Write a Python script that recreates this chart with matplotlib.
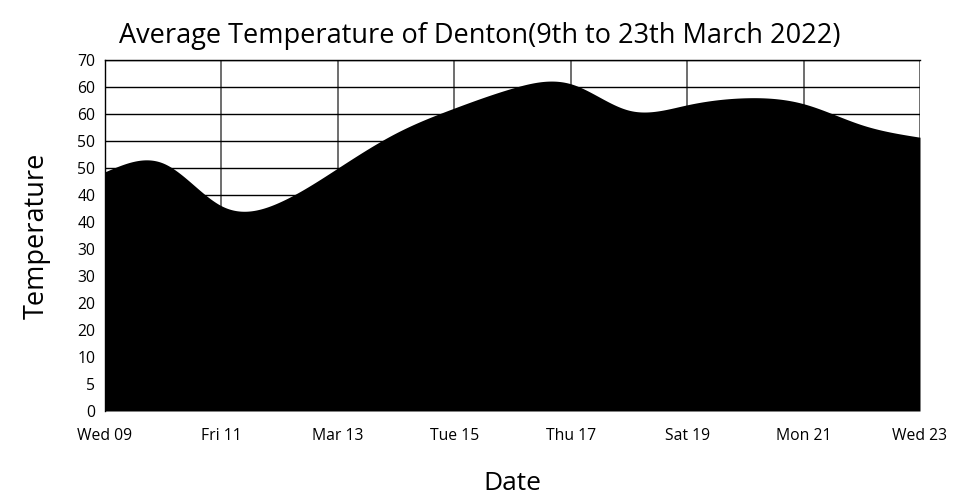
"""Area chart: average temperature of Denton, 9-23 March 2022."""
import math

import matplotlib
matplotlib.use("Agg")
import matplotlib.pyplot as plt
import numpy as np

plt.rcParams["font.family"] = ["Open Sans", "DejaVu Sans"]

# day of month and average temperature
days = np.arange(9, 24)
temps = [44.3, 45.9, 38.0, 38.7, 45.0, 51.5, 56.1, 59.8,
         60.6, 55.7, 56.7, 58.0, 56.9, 53.0, 50.7]
tick_days = [9, 11, 13, 15, 17, 19, 21, 23]
tick_names = ["Wed 09", "Fri 11", "Mar 13", "Tue 15",
              "Thu 17", "Sat 19", "Mon 21", "Wed 23"]
y_ticks = list(range(0, 70, 5))


def one_sig(v):
    # round half up to one significant figure, as the original labels do
    if v == 0:
        return "0"
    p = 10 ** int(math.floor(math.log10(v)))
    return str(int(math.floor(v / p + 0.5)) * p)


def natural_spline(x, y, xs):
    # natural cubic spline, only used to draw the smooth edge
    x = np.asarray(x, float)
    y = np.asarray(y, float)
    n = len(x)
    h = np.diff(x)
    A = np.zeros((n, n))
    r = np.zeros(n)
    A[0, 0] = A[-1, -1] = 1.0
    for i in range(1, n - 1):
        A[i, i - 1] = h[i - 1]
        A[i, i] = 2 * (h[i - 1] + h[i])
        A[i, i + 1] = h[i]
        r[i] = 6 * ((y[i + 1] - y[i]) / h[i] - (y[i] - y[i - 1]) / h[i - 1])
    m = np.linalg.solve(A, r)
    idx = np.clip(np.searchsorted(x, xs) - 1, 0, n - 2)
    x0, x1 = x[idx], x[idx + 1]
    hh = x1 - x0
    a = (x1 - xs) / hh
    b = (xs - x0) / hh
    return (a * y[idx] + b * y[idx + 1]
            + ((a ** 3 - a) * m[idx] + (b ** 3 - b) * m[idx + 1]) * hh ** 2 / 6)


fig = plt.figure(figsize=(9.6, 5), dpi=100)
ax = fig.add_axes([105 / 960, 1 - 411 / 500, 815 / 960, 351 / 500])

xs = np.linspace(days[0], days[-1], 600)
ax.fill_between(xs, 0, natural_spline(days, temps, xs), color="black", lw=0, zorder=3)

ax.set_xlim(days[0], days[-1])
ax.set_ylim(0, 65)
ax.set_xticks(tick_days)
ax.set_xticklabels(tick_names)
ax.set_yticks(y_ticks)
ax.set_yticklabels([one_sig(v) for v in y_ticks])
ax.tick_params(length=0, labelsize=11.3)
ax.tick_params(axis="x", pad=12)
ax.tick_params(axis="y", pad=7)
ax.grid(True, color="black", lw=1, zorder=1)
ax.grid(True, axis="x", color="#555555", lw=1.2, zorder=1)
for s in ["top", "left"]:
    ax.spines[s].set_linewidth(1)
for s in ["right", "bottom"]:
    ax.spines[s].set_visible(False)

fig.text(0.5, 1 - 36 / 500, "Average Temperature of Denton(9th to 23th March 2022)",
         ha="center", va="center", fontsize=19.5)
fig.text(512 / 960, 1 - 483 / 500, "Date", ha="center", va="center", fontsize=19)
fig.text(37 / 960, 1 - 236 / 500, "Temperature", ha="center", va="center",
         rotation=90, fontsize=19.5)

fig.savefig("out.png", dpi=100)
